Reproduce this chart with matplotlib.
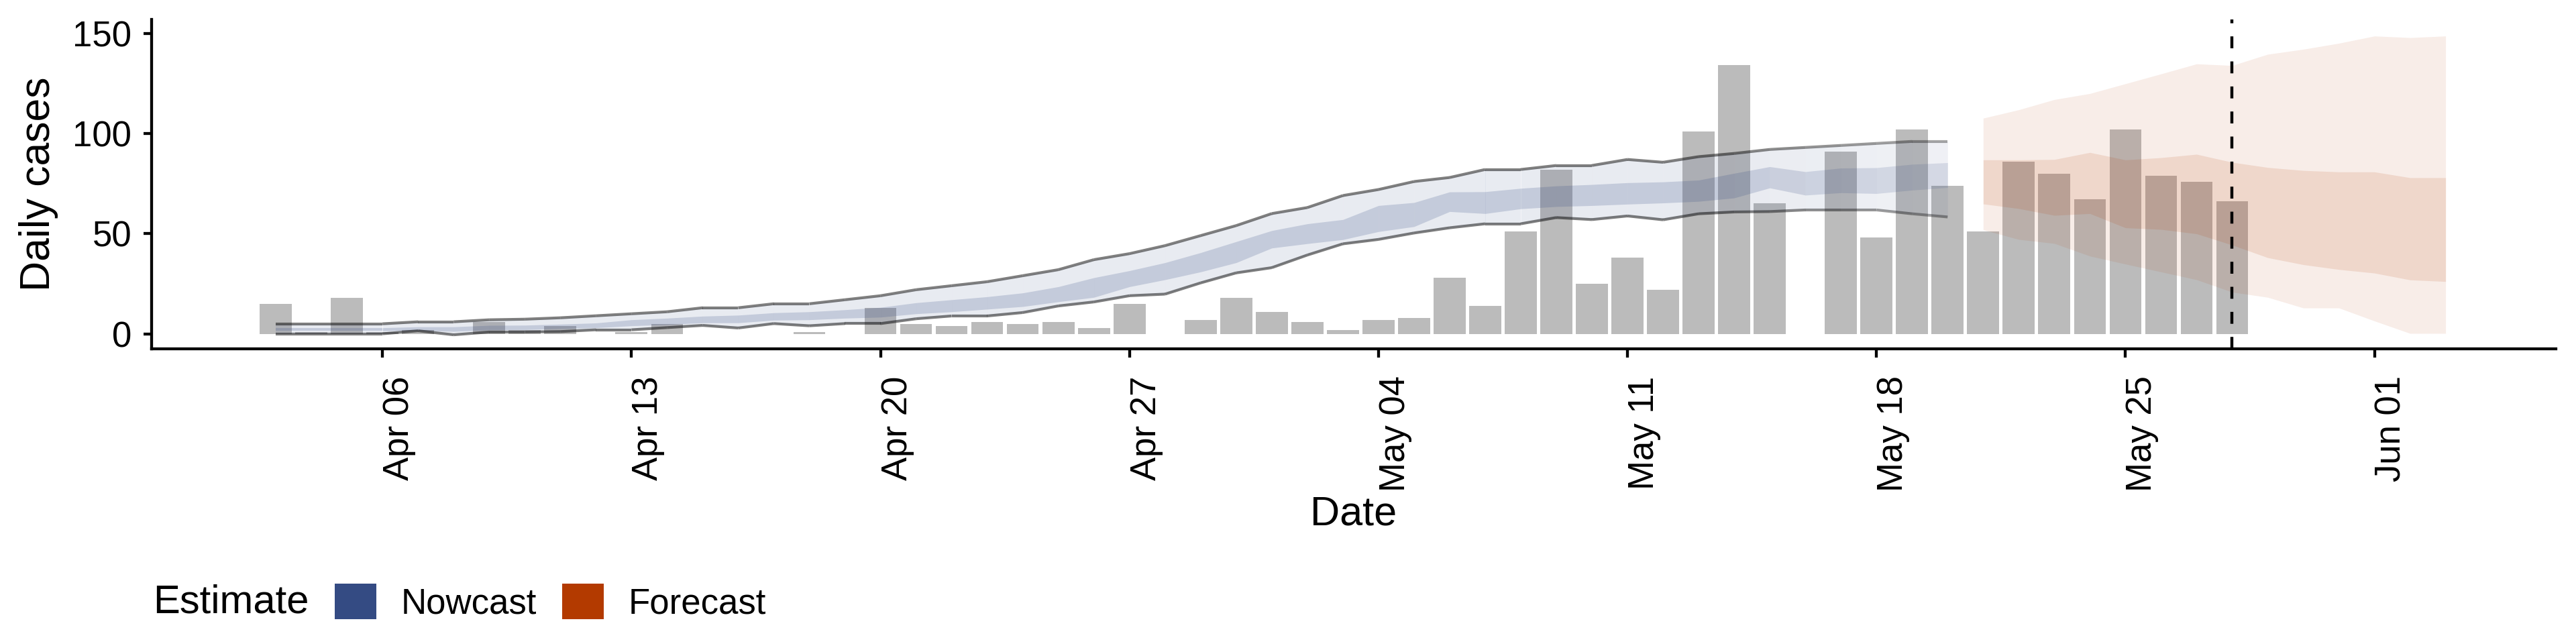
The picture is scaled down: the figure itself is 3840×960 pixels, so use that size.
import numpy as np
import matplotlib
matplotlib.use("Agg")
import matplotlib.pyplot as plt
import matplotlib.dates as mdates
from matplotlib.patches import Patch

plt.rcParams['font.family'] = ['Liberation Sans', 'DejaVu Sans']

# ---------------- data ----------------
bar_start = "2020-04-03"
cases = [15, 1, 18, 1, 2, 0, 6, 2, 4, 0,
         1, 5, 0, 0, 0, 1, 0, 13, 5, 4,
         6, 5, 6, 3, 15, 0, 7, 18, 11, 6,
         2, 7, 8, 28, 14, 51, 82, 25, 38, 22,
         101, 134, 65, 0, 91, 48, 102, 74, 51, 86,
         80, 67, 102, 79, 76, 66]

nowcast_start = "2020-04-03"
now_hi90 = [5, 5, 5, 5, 6, 6, 7, 7.3, 8, 9,
            10, 11, 13, 13, 15, 15, 17, 19, 22, 24,
            26, 29, 32, 37, 40, 44, 49, 54, 60, 63,
            69, 72, 76, 78, 82, 82, 84, 84, 87, 85.6,
            88.4, 90, 92, 93, 94, 95, 96, 96]
now_hi50 = [3, 3, 3, 3, 3.5, 3.5, 4.2, 4.3, 4.8, 5.4,
            7.0, 7.8, 8.8, 9.3, 10.5, 11, 12, 13.2, 15.5, 17,
            18.5, 20.4, 23.5, 28, 31.5, 35.5, 40.5, 46, 51.5, 54.9,
            57, 64, 65.5, 70.8, 70.9, 72.6, 73.8, 74.5, 75.4, 75.8,
            76.7, 80.1, 83.4, 80.9, 82.7, 82.9, 84.6, 85.4]
now_lo50 = [1.5, 1.5, 1.5, 1.5, 1.7, 1.2, 2, 2.1, 2.6, 3,
            4.0, 4.6, 5.5, 5.5, 6.8, 7, 7.8, 8.3, 10, 11,
            12.3, 13.6, 16, 18.2, 23.5, 27, 30.9, 35.5, 42.8, 45,
            47, 51, 53.5, 61, 60, 62.4, 63.5, 64, 64.7, 65.3,
            66.1, 67.8, 72.8, 69.2, 70.4, 70, 71.7, 73]
now_lo90 = [0, 0, 0, 0, 1.5, -0.5, 0.9, 0.9, 1.1, 2,
            2, 3.1, 4.2, 2.9, 5.1, 4.0, 5.1, 5.1, 7.5, 8.9,
            8.9, 10.6, 13.9, 15.9, 19, 19.8, 25.4, 30.4, 33, 39.3,
            44.9, 47.1, 50.3, 52.9, 54.9, 54.9, 58, 57, 58.8, 56.9,
            59.9, 60.8, 61, 61.8, 61.8, 61.8, 59.9, 58.3]

forecast_start = "2020-05-21"
fc_hi90 = [107.6, 111.8, 116.9, 119.9, 124.8, 129.7, 134.7, 133.9, 139.5, 142, 145, 148.6, 147.8, 148.6]
fc_hi50 = [86.8, 86.8, 87.0, 90.5, 86.8, 87.9, 89.6, 85.6, 83.0, 81.5, 80.8, 80.8, 77.9, 77.9]
fc_lo50 = [64.8, 62.5, 59.1, 60.0, 52.9, 52.1, 49.9, 44.3, 38.0, 34.5, 32.1, 30.3, 26.9, 26.1]
fc_lo90 = [51.9, 47.1, 45.1, 38.8, 34.8, 30.9, 27.0, 20.8, 18.2, 12.9, 12.9, 6.4, 0.2, 0.2]

forecast_date = "2020-05-28"
partial_start = "2020-05-13"

tick_dates = ["2020-04-06", "2020-04-13", "2020-04-20", "2020-04-27", "2020-05-04",
              "2020-05-11", "2020-05-18", "2020-05-25", "2020-06-01"]
tick_labels = ["Apr 06", "Apr 13", "Apr 20", "Apr 27", "May 04",
               "May 11", "May 18", "May 25", "Jun 01"]
y_ticks = [0, 50, 100, 150]
legend_labels = ["Nowcast", "Forecast"]

NOW = "#344B83"
FC = "#B33A00"
BAR = "#BBBBBB"


def to_num(s):
    return mdates.date2num(np.datetime64(s, "D").astype(object))


def day_nums(start, n):
    return to_num(start) + np.arange(n)


W, H = 3840, 960
fig = plt.figure(figsize=(W / 100, H / 100), dpi=100)
ax = fig.add_axes([225.5 / W, 1 - 520 / H, (3810 - 225.5) / W, (520 - 28.6) / H])

bx = day_nums(bar_start, len(cases))
ax.bar(bx, cases, width=0.9, color=BAR, linewidth=0, zorder=1)

nx = day_nums(nowcast_start, len(now_hi90))
hi90, hi50 = np.array(now_hi90), np.array(now_hi50)
lo50, lo90 = np.array(now_lo50), np.array(now_lo90)
p0 = to_num(partial_start)
for i in range(len(nx) - 1):
    s = slice(i, i + 2)
    if nx[i] >= p0:
        frac = (nx[i] - p0) / (nx[-1] - p0)
        f = 1.0 - 0.35 * frac
    else:
        f = 1.0
    ax.fill_between(nx[s], lo90[s], hi90[s], color=NOW, alpha=0.11 * f, lw=0, zorder=2)
    ax.fill_between(nx[s], lo50[s], hi50[s], color=NOW, alpha=0.20 * f, lw=0, zorder=2)
    ax.plot(nx[s], hi90[s], color="black", alpha=0.5 * f, lw=3.0, solid_capstyle="butt", zorder=3)
    ax.plot(nx[s], lo90[s], color="black", alpha=0.5 * f, lw=3.0, solid_capstyle="butt", zorder=3)

fx = day_nums(forecast_start, len(fc_hi90))
ax.fill_between(fx, fc_lo90, fc_hi90, color=FC, alpha=0.09, lw=0, zorder=2)
ax.fill_between(fx, fc_lo50, fc_hi50, color=FC, alpha=0.12, lw=0, zorder=2)

ax.axvline(to_num(forecast_date), color="black", lw=3.2, ls=(0, (4.0, 4.4)), zorder=5)

# axes limits
ax.set_xlim(to_num("2020-03-30") + 0.5, to_num("2020-06-06") + 0.1)
ax.set_ylim(-7.5, 157)

ax.set_xticks([to_num(t) for t in tick_dates])
ax.set_xticklabels(tick_labels, rotation=90, ha="left", va="top")
ax.set_yticks(y_ticks)
ax.set_yticklabels([str(v) for v in y_ticks])

for side in ["top", "right"]:
    ax.spines[side].set_visible(False)
for side in ["left", "bottom"]:
    ax.spines[side].set_linewidth(3.1)
    ax.spines[side].set_color("black")
ax.tick_params(axis="both", which="major", length=9, width=3.1, color="black",
               labelsize=38, labelcolor="black")
ax.tick_params(axis="x", pad=20)
ax.tick_params(axis="y", pad=12)

ax.set_xlabel("Date", fontsize=44)
ax.set_ylabel("Daily cases", fontsize=45)
ax.xaxis.label.set_va("center")
ax.xaxis.set_label_coords(0.5, -0.5027)
ax.yaxis.label.set_va("center")
ax.yaxis.set_label_coords(-0.0469, 0.5)

# legend
fig.text(228 / W, 1 - 898 / H, "Estimate", fontsize=43, ha="left", va="center")
handles = [Patch(facecolor=NOW, edgecolor="none"), Patch(facecolor=FC, edgecolor="none")]
fig.legend(handles, legend_labels, ncol=2, loc="center left",
           bbox_to_anchor=(499 / W, 1 - 898 / H), frameon=False, fontsize=38,
           handlelength=1.17, handleheight=1.17, handletextpad=0.7,
           columnspacing=0.72, borderpad=0, borderaxespad=0)

fig.savefig("out.png", dpi=100)
